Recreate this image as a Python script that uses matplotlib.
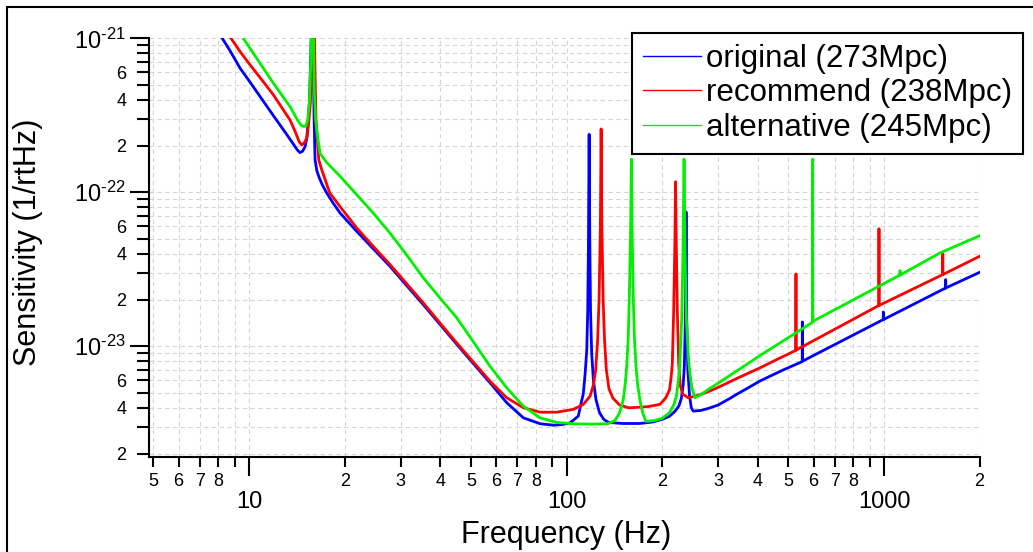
import matplotlib
matplotlib.use('Agg')
import matplotlib.pyplot as plt
from matplotlib.ticker import FixedLocator, FixedFormatter
from matplotlib.patches import Rectangle

plt.rcParams['font.family'] = ['Liberation Sans', 'DejaVu Sans']
plt.rcParams['mathtext.fontset'] = 'custom'
plt.rcParams['mathtext.rm'] = 'Liberation Sans'
plt.rcParams['mathtext.it'] = 'Liberation Sans:italic'
plt.rcParams['mathtext.bf'] = 'Liberation Sans:bold'

# sensitivity curves (Hz, 1/rtHz)
orig_freq = [8.0, 8.7, 9.37, 10.0, 11.0, 12.0, 13.0, 13.8, 14.2, 14.47,
             14.75, 15.01, 15.2, 15.37, 15.52, 15.65, 15.77, 15.85, 15.93, 16.03,
             16.14, 16.35, 16.62, 17.0, 17.56, 18.4, 19.35, 21.84, 24.6, 27.8,
             31.5, 35.4, 40.0, 45.1, 51.0, 57.4, 64.8, 73.1, 82.5, 90.9,
             97.0, 102.6, 108.9, 111.2, 112.9, 114.4, 115.8, 116.6, 117.2, 117.8,
             118.4, 119.0, 120.0, 121.5, 123.8, 127.0, 131.0, 135.6, 150.0, 170.0,
             186.6, 200.0, 211.0, 220.0, 226.0, 230.0, 233.0, 235.0, 236.7, 237.9,
             239.1, 241.0, 244.0, 247.0, 250.6, 265.0, 280.0, 300.0, 325.0, 345.0,
             375.0, 406.8, 480.0, 552.5, 553.0, 553.5, 994.5, 995.0, 995.5, 1563.5,
             1564.0, 1564.5, 2000.0]
orig_sens = [1.10e-21, 8.34e-22, 6.39e-22, 5.3e-22, 4.0e-22, 3.09e-22, 2.45e-22, 2.05e-22, 1.88e-22, 1.81e-22,
             1.85e-22, 1.98e-22, 2.25e-22, 2.95e-22, 4.2e-22, 8.0e-22, 1.5e-21, 4.0e-21, 7.0e-22, 2.95e-22,
             1.62e-22, 1.38e-22, 1.25e-22, 1.12e-22, 9.9e-23, 8.5e-23, 7.33e-23, 5.57e-23, 4.3e-23, 3.3e-23,
             2.45e-23, 1.86e-23, 1.38e-23, 1.03e-23, 7.67e-24, 5.79e-24, 4.3e-24, 3.43e-24, 3.14e-24, 3.07e-24,
             3.1e-24, 3.18e-24, 3.52e-24, 4.3e-24, 4.9e-24, 6.6e-24, 9.5e-24, 1.7e-23, 4.5e-23, 2.38e-22,
             4.5e-23, 1.7e-23, 9.0e-24, 6.0e-24, 4.5e-24, 3.7e-24, 3.35e-24, 3.2e-24, 3.15e-24, 3.15e-24,
             3.22e-24, 3.35e-24, 3.51e-24, 3.8e-24, 4.1e-24, 4.6e-24, 5.6e-24, 7.4e-24, 1.5e-23, 7.45e-23,
             1.5e-23, 7.0e-24, 4.8e-24, 4.0e-24, 3.79e-24, 3.83e-24, 3.95e-24, 4.15e-24, 4.55e-24, 4.9e-24,
             5.4e-24, 5.95e-24, 7.0e-24, 7.95e-24, 1.44e-23, 8.0e-24, 1.49e-23, 1.67e-23, 1.49e-23, 2.39e-23,
             2.71e-23, 2.39e-23, 3.02e-23]

rec_freq = [8.5, 9.37, 10.0, 11.0, 11.93, 13.0, 13.46, 14.0, 14.4, 14.66,
            14.95, 15.24, 15.45, 15.6, 15.77, 15.85, 15.94, 16.05, 16.15, 16.25,
            16.58, 16.94, 17.95, 19.35, 21.84, 24.6, 27.8, 31.5, 35.4,
            40.0, 45.1, 51.0, 57.4, 64.8, 73.1, 82.5, 93.1, 105.0, 112.9,
            118.6, 121.5, 123.5, 125.3, 126.6, 127.8, 128.5, 129.2, 130.4, 131.7,
            133.5, 136.0, 140.0, 147.0, 157.1, 180.0, 196.8, 205.0, 211.0, 213.5,
            215.3, 217.5, 219.5, 220.5, 221.5, 223.3, 225.6, 228.0, 232.0, 241.5,
            255.0, 275.0, 300.0, 345.0, 406.8, 465.0, 527.5, 528.0, 528.5, 963.5,
            964.0, 964.5, 1530.5, 1531.0, 1531.5, 2000.0]
rec_sens = [1.1e-21, 8.19e-22, 6.85e-22, 5.33e-22, 4.29e-22, 3.28e-22, 2.95e-22, 2.45e-22, 2.12e-22, 2.03e-22,
            2.1e-22, 2.3e-22, 3.0e-22, 3.79e-22, 8.0e-22, 1.6e-21, 4.0e-21, 1.2e-21, 5.5e-22, 2.95e-22,
            1.62e-22, 1.4e-22, 9.9e-23, 8.07e-23, 5.86e-23, 4.46e-23, 3.39e-23, 2.52e-23, 1.91e-23,
            1.41e-23, 1.05e-23, 7.85e-24, 5.93e-24, 4.63e-24, 3.99e-24, 3.73e-24, 3.73e-24, 3.89e-24, 4.19e-24,
            4.74e-24, 5.6e-24, 7.0e-24, 1.1e-23, 2.0e-23, 6.0e-23, 2.58e-22, 6.0e-23, 2.0e-23, 1.1e-23,
            7.0e-24, 5.3e-24, 4.6e-24, 4.15e-24, 3.98e-24, 4.05e-24, 4.19e-24, 4.6e-24, 5.2e-24, 6.3e-24,
            7.6e-24, 1.7e-23, 5.0e-23, 1.17e-22, 5.0e-23, 1.7e-23, 7.6e-24, 5.6e-24, 4.9e-24, 4.63e-24,
            4.75e-24, 5.0e-24, 5.4e-24, 6.2e-24, 7.24e-24, 8.3e-24, 9.4e-24, 2.95e-23, 9.45e-24, 1.84e-23,
            5.8e-23, 1.84e-23, 2.92e-23, 3.99e-23, 2.92e-23, 3.84e-23]

alt_freq = [9.2, 10.0, 11.0, 11.93, 13.0, 13.46, 14.2, 14.6, 14.9, 15.1,
            15.3, 15.48, 15.65, 15.75, 15.85, 15.95, 16.03, 16.2, 16.44, 16.73,
            17.56, 19.35, 21.84, 24.6, 27.8, 31.4, 35.4, 40.0, 45.1, 51.0,
            57.4, 64.8, 73.1, 82.5, 93.1, 105.0, 120.0, 135.0, 142.0, 146.0,
            148.5, 151.1, 153.2, 154.7, 156.3, 157.6, 159.2, 160.0, 160.8, 162.3,
            163.7, 165.5, 167.5, 170.5, 174.0, 177.8, 190.0, 200.0, 211.0, 218.0,
            222.0, 225.0, 227.5, 230.5, 232.7, 234.5, 236.3, 238.5, 241.5, 244.0,
            248.0, 253.8, 265.0, 280.0, 300.0, 345.0, 406.8, 480.0, 595.3, 595.8,
            596.3, 1122.5, 1123.0, 1123.5, 1501.0, 2000.0]
alt_sens = [1.13e-21, 8.8e-22, 6.55e-22, 5.11e-22, 3.98e-22, 3.6e-22, 2.95e-22, 2.72e-22, 2.67e-22, 2.7e-22,
            2.95e-22, 3.79e-22, 7.2e-22, 1.5e-21, 4.0e-21, 1.2e-21, 4.86e-22, 3.0e-22, 2.3e-22, 1.79e-22,
            1.56e-22, 1.27e-22, 9.64e-23, 7.33e-23, 5.43e-23, 3.9e-23, 2.78e-23, 2.05e-23, 1.53e-23, 1.06e-23,
            7.42e-24, 5.37e-24, 4.08e-24, 3.43e-24, 3.2e-24, 3.14e-24, 3.12e-24, 3.14e-24, 3.3e-24, 3.6e-24,
            3.95e-24, 4.6e-24, 5.8e-24, 7.4e-24, 1.1e-23, 2.0e-23, 6.0e-23, 1.64e-22, 6.0e-23, 2.0e-23,
            1.1e-23, 7.4e-24, 5.6e-24, 4.4e-24, 3.65e-24, 3.25e-24, 3.3e-24, 3.4e-24, 3.7e-24, 4.2e-24,
            4.8e-24, 6.0e-24, 7.8e-24, 1.5e-23, 4.0e-23, 1.64e-22, 4.0e-23, 1.5e-23, 9.0e-24, 7.0e-24,
            5.4e-24, 4.63e-24, 4.85e-24, 5.25e-24, 5.75e-24, 6.95e-24, 8.7e-24, 1.08e-23, 1.43e-23, 1.64e-22,
            1.45e-23, 2.9e-23, 3.1e-23, 2.9e-23, 4.04e-23, 5.22e-23]

labels = ['original (273Mpc)', 'recommend (238Mpc)', 'alternative (245Mpc)']
colors = ['#0000ff', '#ff0000', '#00f000']

# axis ticks
x_major = [10, 100, 1000]
x_major_labels = ['10', '100', '1000']
x_minor = [5, 6, 7, 8, 9, 20, 30, 40, 50, 60, 70, 80, 90,
           200, 300, 400, 500, 600, 700, 800, 900, 2000]
x_minor_labels = ['5', '6', '7', '8', '', '2', '3', '4', '5', '6', '7', '8', '',
                  '2', '3', '4', '5', '6', '7', '8', '', '2']
y_major = [1e-23, 1e-22, 1e-21]
y_major_labels = [r'$10^{\text{-23}}$', r'$10^{\text{-22}}$', r'$10^{\text{-21}}$']
y_minor = [2e-24, 3e-24, 4e-24, 5e-24, 6e-24, 7e-24, 8e-24, 9e-24,
           2e-23, 3e-23, 4e-23, 5e-23, 6e-23, 7e-23, 8e-23, 9e-23,
           2e-22, 3e-22, 4e-22, 5e-22, 6e-22, 7e-22, 8e-22, 9e-22]
y_minor_labels = ['2', '', '4', '', '6', '', '', ''] * 3

W, H = 1033, 552
fig = plt.figure(figsize=(W / 100, H / 100), dpi=100)
ax = fig.add_axes([149.3 / W, 1 - 457.3 / H, (979.6 - 149.3) / W, (457.3 - 38.3) / H])

series = [(orig_freq, orig_sens), (rec_freq, rec_sens), (alt_freq, alt_sens)]
for (f, s), c, lab in zip(series, colors, labels):
    ax.plot(f, s, color=c, lw=2.0, label=lab)

ax.set_xscale('log')
ax.set_yscale('log')
ax.set_xlim(4.85, 2000)
ax.set_ylim(1.9e-24, 1e-21)

ax.xaxis.set_major_locator(FixedLocator(x_major))
ax.xaxis.set_major_formatter(FixedFormatter(x_major_labels))
ax.xaxis.set_minor_locator(FixedLocator(x_minor))
ax.xaxis.set_minor_formatter(FixedFormatter(x_minor_labels))
ax.yaxis.set_major_locator(FixedLocator(y_major))
ax.yaxis.set_major_formatter(FixedFormatter(y_major_labels))
ax.yaxis.set_minor_locator(FixedLocator(y_minor))
ax.yaxis.set_minor_formatter(FixedFormatter(y_minor_labels))

ax.tick_params(axis='x', which='major', direction='out', length=13.5, width=1.5, labelsize=17, pad=11)
ax.tick_params(axis='x', which='minor', direction='out', length=7.5, width=1.5, labelsize=13, pad=4)
ax.tick_params(axis='y', which='major', direction='out', length=14, width=1.5, labelsize=17, pad=3)
ax.tick_params(axis='y', which='minor', direction='out', length=8.5, width=1.5, labelsize=13, pad=8)

ax.grid(True, which='both', color='#d6d6d6', ls=(0, (4, 3)), lw=0.8)
ax.set_axisbelow(True)
ax.spines[['top', 'right']].set_visible(False)
ax.spines[['left', 'bottom']].set_linewidth(1.5)

fig.text(566 / W, 1 - 543.3 / H, 'Frequency (Hz)', fontsize=22, ha='center', va='baseline')
fig.text(27.7 / W, 1 - 242 / H, 'Sensitivity (1/rtHz)', fontsize=22, rotation=90,
         ha='center', va='center')

leg = ax.legend(loc='upper right', bbox_to_anchor=(1022.7 / W, 1 - 32.7 / H),
                bbox_transform=fig.transFigure, fontsize=22.5, fancybox=False,
                edgecolor='black', framealpha=1, borderaxespad=0, borderpad=0.35,
                labelspacing=0.15, handlelength=1.85, handletextpad=0.15)
leg.get_frame().set_linewidth(1.5)
for line in leg.get_lines():
    line.set_linewidth(1.0)

# outer frame of the exported graph
fig.patches.append(Rectangle((6.7 / W, -0.05), 1.1, 1 - 6.7 / H + 0.05,
                             transform=fig.transFigure, fill=False, lw=1.5, ec='black'))

fig.savefig('out.png', dpi=100)
